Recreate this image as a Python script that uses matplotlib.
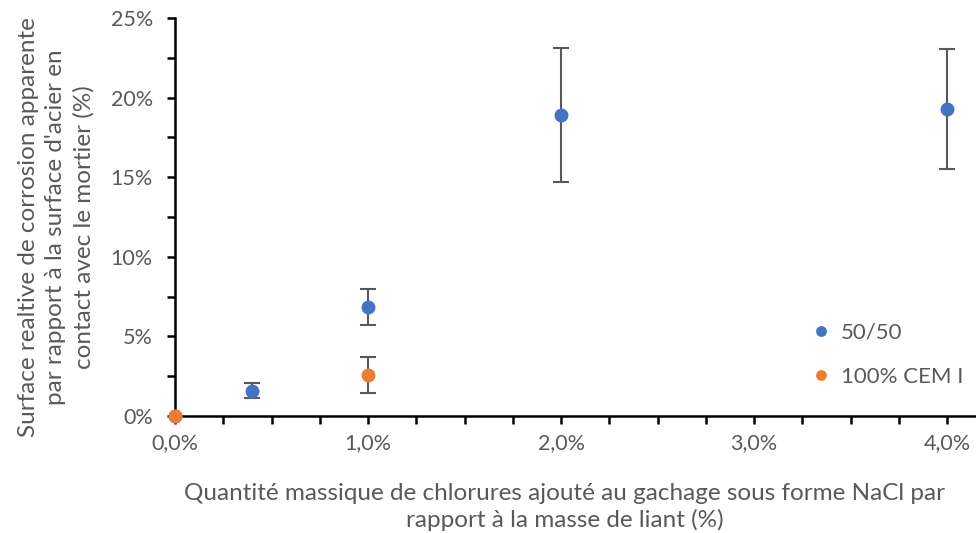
import matplotlib as mpl
import matplotlib.pyplot as plt
from matplotlib.ticker import MultipleLocator, FuncFormatter

mpl.rcParams["font.family"] = ["Lato", "DejaVu Sans"]

# données (fractions)
x_5050 = [0.0, 0.004, 0.01, 0.02, 0.04]
y_5050 = [0.0, 0.016, 0.0685, 0.189, 0.193]
err_5050 = [0.0, 0.0047, 0.0113, 0.042, 0.0375]

x_cem = [0.0, 0.01]
y_cem = [0.0, 0.0258]
err_cem = [0.0, 0.0115]

series_names = ["50/50", "100% CEM I"]
blue = "#4472C4"
orange = "#ED7D31"
grey = "#595959"

fig = plt.figure(figsize=(9.76, 5.33), dpi=100)
ax = fig.add_axes([0.1793, 0.2195, 0.8197, 0.7465])

ax.errorbar(x_5050, y_5050, yerr=err_5050, fmt="none", ecolor=grey,
            elinewidth=1.5, capsize=6, capthick=1.5, zorder=2)
ax.errorbar(x_cem, y_cem, yerr=err_cem, fmt="none", ecolor=grey,
            elinewidth=1.5, capsize=6, capthick=1.5, zorder=2)
ax.plot(x_5050, y_5050, "o", color=blue, ms=9, label=series_names[0],
        zorder=3, clip_on=False)
ax.plot(x_cem, y_cem, "o", color=orange, ms=9, label=series_names[1],
        zorder=4, clip_on=False)

ax.set_xlim(0, 0.04145)
ax.set_ylim(0, 0.25)

ax.xaxis.set_major_locator(MultipleLocator(0.01))
ax.xaxis.set_minor_locator(MultipleLocator(0.0025))
ax.yaxis.set_major_locator(MultipleLocator(0.05))
ax.yaxis.set_minor_locator(MultipleLocator(0.025))
ax.xaxis.set_major_formatter(FuncFormatter(lambda v, p: ("%.1f%%" % (v * 100)).replace(".", ",")))
ax.yaxis.set_major_formatter(FuncFormatter(lambda v, p: "%d%%" % round(v * 100)))

for s in ["top", "right"]:
    ax.spines[s].set_visible(False)
for s in ["left", "bottom"]:
    ax.spines[s].set_linewidth(1.8)
    ax.spines[s].set_color("black")
ax.tick_params(which="both", direction="out", length=6, width=1.8,
               color="black", labelcolor=grey, labelsize=15.5)
ax.tick_params(axis="x", pad=6)
ax.tick_params(axis="y", pad=10)

ax.set_xlabel("Quantité massique de chlorures ajouté au gachage sous forme NaCl par\nrapport à la masse de liant (%)",
              fontsize=17.5, color=grey, linespacing=1.3)
ax.xaxis.set_label_coords(0.487, -0.168)
ax.set_ylabel("Surface realtive de corrosion apparente\npar rapport à la surface d'acier en\ncontact avec le mortier (%)",
              fontsize=17.5, color=grey, linespacing=1.4)
ax.yaxis.set_label_coords(-0.1, 0.475)

leg = ax.legend(loc="upper left", bbox_to_anchor=(0.755, 0.285), frameon=False,
                fontsize=16, labelcolor=grey, handletextpad=-0.1,
                labelspacing=1.1, markerscale=0.75)

fig.savefig("out.png", dpi=100)
